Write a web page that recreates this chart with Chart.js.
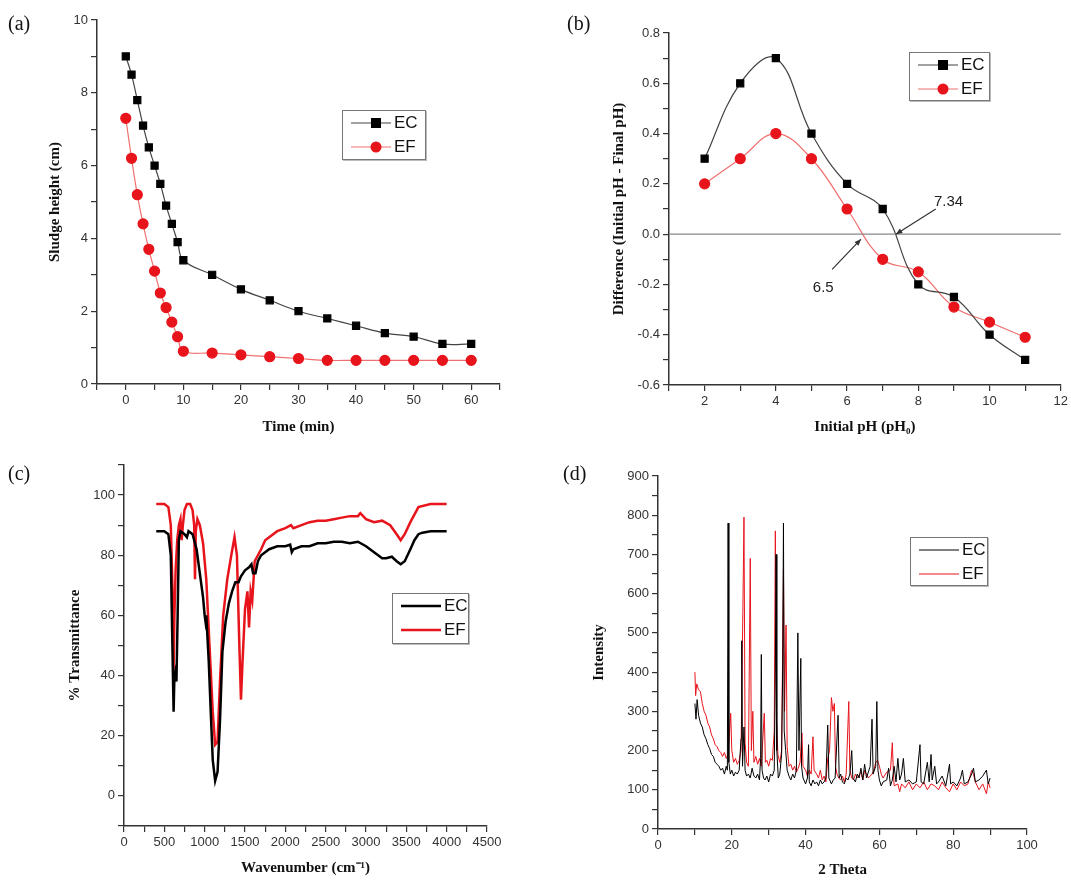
<!DOCTYPE html>
<html>
<head>
<meta charset="utf-8">
<script src="https://cdn.jsdelivr.net/npm/chart.js@4"></script>
<style>
  body { margin: 0; background: #fff; width: 1071px; height: 891px; position: relative; overflow: hidden; }
  canvas { position: absolute; }
  .tag { position: absolute; font: 20px "Liberation Serif", serif; color: #111; }
  .legend { position: absolute; border: 1.5px solid #777; background: #fff; box-shadow: 1px 1px 0 #bbb; }
  .legend div { display: flex; align-items: center; height: 24px; font: 17px "Liberation Sans", Arial, sans-serif; color: #111; }
  .legend svg { margin: 0 3px 0 8px; }
</style>
</head>
<body>
<canvas id="chartA" style="left:0;top:0"></canvas>
<canvas id="chartB" style="left:540px;top:0"></canvas>
<canvas id="chartC" style="left:0;top:450px"></canvas>
<canvas id="chartD" style="left:540px;top:450px"></canvas>

<div class="tag" style="left:8px;top:12px">(a)</div>
<div class="tag" style="left:567px;top:12px">(b)</div>
<div class="tag" style="left:8px;top:462px">(c)</div>
<div class="tag" style="left:563px;top:462px">(d)</div>

<div class="legend" style="left:342px;top:110px;width:82px;height:48px" id="legA"></div>
<div class="legend" style="left:909px;top:52px;width:79px;height:47px" id="legB"></div>
<div class="legend" style="left:392px;top:593px;width:75px;height:49px" id="legC"></div>
<div class="legend" style="left:910px;top:537px;width:76px;height:47px" id="legD"></div>

<script>
// (a) sludge height vs time
const timeMin = [0, 1, 2, 3, 4, 5, 6, 7, 8, 9, 10, 15, 20, 25, 30, 35, 40, 45, 50, 55, 60];
const sludgeEC = [9, 8.5, 7.8, 7.1, 6.5, 6, 5.5, 4.9, 4.4, 3.9, 3.4, 3.0, 2.6, 2.3, 2.0, 1.8, 1.6, 1.4, 1.3, 1.1, 1.1];
const sludgeEF = [7.3, 6.2, 5.2, 4.4, 3.7, 3.1, 2.5, 2.1, 1.7, 1.3, 0.9, 0.85, 0.8, 0.75, 0.7, 0.65, 0.65, 0.65, 0.65, 0.65, 0.65];
const timeTicks = [-5, 0, 5, 10, 15, 20, 25, 30, 35, 40, 45, 50, 55, 60, 65];
const timeLabels = [0, 10, 20, 30, 40, 50, 60];

// (b) pH difference vs initial pH
const initialPH = [2, 3, 4, 5, 6, 7, 8, 9, 10, 11];
const diffEC = [0.3, 0.6, 0.7, 0.4, 0.2, 0.1, -0.2, -0.25, -0.4, -0.5];
const diffEF = [0.2, 0.3, 0.4, 0.3, 0.1, -0.1, -0.15, -0.29, -0.35, -0.41];

// (c) FTIR [wavenumber, %T]
const ftirEC = [[400,88],[450,88],[500,88],[550,87],[580,80],[600,50],[615,28],[625,40],[640,42],[650,38],[665,60],[680,85],[700,88],[750,87],[780,86],[800,88],[850,87],[880,84],[900,82],[950,72],[980,66],[1000,60],[1010,58],[1020,60],[1050,45],[1080,25],[1100,12],[1130,5],[1160,8],[1190,25],[1220,48],[1260,58],[1300,64],[1340,68],[1380,71],[1420,71],[1450,73],[1500,75],[1550,76],[1580,77],[1600,74],[1630,74],[1660,78],[1700,80],[1800,82],[1900,83],[2000,83],[2060,83.5],[2080,81],[2100,82],[2200,83],[2300,83],[2400,84],[2500,84],[2600,84.5],[2700,84.5],[2800,84],[2900,84.5],[3000,83],[3100,81],[3200,79],[3250,79],[3320,79.5],[3380,78],[3430,77],[3480,78],[3550,82],[3600,85],[3650,87],[3700,87.5],[3800,88],[3900,88],[4000,88]];
const ftirEF = [[400,97],[500,97],[550,96],[580,90],[600,70],[615,42],[625,60],[640,75],[660,85],[680,90],[700,92],[715,85],[730,90],[750,95],[780,97],[820,97],[850,95],[870,90],[880,72],[890,88],[910,92],[940,90],[980,84],[1020,72],[1060,50],[1100,28],[1130,17],[1160,18],[1190,38],[1230,60],[1280,72],[1330,80],[1370,86],[1400,80],[1430,50],[1450,32],[1470,45],[1500,62],[1530,68],[1550,56],[1570,68],[1590,65],[1620,78],[1660,80],[1700,82],[1750,85],[1800,86],[1900,88],[2000,89],[2070,90],[2100,89],[2200,90],[2300,91],[2400,91.5],[2500,91.5],[2600,92],[2700,92.5],[2800,93],[2900,93],[2930,94],[3000,92],[3100,91],[3200,91.5],[3300,90],[3380,87],[3430,85],[3480,87],[3550,91],[3650,96],[3800,97],[4000,97]];

// (d) XRD [2theta, intensity]
const xrdEC = [[10,320],[10.3,280],[10.6,330],[11,290],[11.5,270],[12,260],[12.5,240],[13,230],[13.5,215],[14,205],[14.5,190],[15,185],[15.5,170],[16,165],[16.5,160],[17,150],[17.5,155],[18,140],[18.5,160],[18.8,150],[19,780],[19.2,170],[19.6,140],[20,150],[20.5,135],[21,145],[21.5,140],[22,150],[22.5,230],[22.7,480],[22.9,160],[23.3,260],[23.6,150],[24,135],[24.5,140],[25,130],[25.5,155],[26,135],[26.5,130],[27,140],[27.5,125],[27.8,180],[28,445],[28.2,150],[28.6,130],[29,125],[29.5,135],[30,120],[30.5,140],[31,135],[31.5,150],[31.8,400],[32,700],[32.2,200],[32.6,130],[33,140],[33.5,190],[33.8,420],[34,780],[34.2,250],[34.6,200],[35,150],[35.5,135],[36,125],[36.5,140],[37,130],[37.5,150],[37.9,500],[38.2,200],[38.7,435],[38.9,160],[39.3,130],[40,115],[40.5,130],[40.8,215],[41,120],[41.5,110],[42,125],[42.5,115],[43,120],[43.5,110],[44,125],[44.5,115],[45,120],[45.5,130],[46,265],[46.3,130],[47,115],[47.5,125],[48,130],[48.8,290],[49.1,130],[49.5,140],[50,120],[50.5,115],[51,130],[51.5,125],[52,140],[52.5,200],[52.8,130],[53.5,120],[54,140],[54.5,130],[55,155],[55.5,125],[56,165],[56.5,130],[57,145],[57.5,160],[58,280],[58.3,140],[59,160],[59.3,325],[59.6,150],[60,125],[60.5,110],[61,120],[62,125],[62.5,155],[63,110],[63.5,125],[64,160],[64.5,120],[65,180],[65.5,125],[66,140],[66.5,180],[67,120],[68,125],[69,115],[70,120],[71,215],[71.3,120],[72,115],[73,170],[73.5,120],[74,190],[74.3,125],[75,160],[75.5,115],[76,120],[77,135],[78,110],[79,165],[79.3,115],[80,120],[81,110],[82,130],[82.5,150],[83,115],[84,120],[85,140],[85.5,155],[86,120],[87,125],[88,135],[89,150],[89.5,115],[90,130]];
const xrdEF = [[10,400],[10.2,340],[10.5,370],[11,355],[11.5,350],[12,320],[12.5,300],[13,290],[13.5,270],[14,260],[14.5,240],[15,230],[15.5,215],[16,210],[16.5,200],[17,195],[17.5,185],[18,195],[18.5,180],[19,190],[19.7,295],[20,200],[20.5,170],[21,180],[21.5,165],[22,175],[22.5,200],[23,555],[23.3,795],[23.6,220],[24,170],[24.5,160],[25,690],[25.3,200],[25.7,300],[26,170],[26.5,185],[27,165],[27.5,180],[28,160],[28.8,295],[29.1,170],[29.5,175],[30,160],[30.5,180],[31,175],[31.5,250],[31.8,760],[32.1,280],[32.5,190],[33,170],[33.5,200],[34,660],[34.3,300],[34.7,520],[35,210],[35.5,160],[36,165],[36.5,150],[37,160],[37.5,145],[38,155],[38.5,170],[39,245],[39.3,160],[40,150],[40.5,135],[41,150],[41.5,140],[42,235],[42.3,150],[43,140],[43.5,130],[44,150],[44.5,125],[45,135],[45.5,120],[46,180],[46.5,200],[47,335],[47.4,300],[47.8,320],[48.1,160],[48.5,140],[49,130],[49.5,125],[50,135],[50.5,120],[51,140],[51.7,325],[52,150],[52.5,130],[53,125],[53.5,140],[54,130],[55,145],[55.5,125],[56,150],[57,130],[58,140],[58.5,150],[59,170],[59.5,175],[60,160],[60.5,140],[61,130],[62,145],[63,150],[63.5,220],[63.8,140],[64,110],[65,115],[65.5,95],[66,115],[67,105],[68,120],[69,100],[70,115],[71,105],[72,120],[73,100],[74,115],[75,110],[76,100],[77,120],[78,105],[79,95],[80,115],[81,100],[82,120],[83,110],[84,115],[85,150],[85.5,140],[86,120],[87,100],[88,115],[89,90],[89.5,120],[90,105]];

const tickFont = { family: "'Liberation Sans', Arial, sans-serif", size: 13 };
const titleFont = { family: "'Liberation Serif', 'Times New Roman', serif", size: 15, weight: "bold" };

function zip(xs, ys) {
  return xs.map((x, i) => ({ x, y: ys[i] }));
}
function pairs(list) {
  return list.map(([x, y]) => ({ x, y }));
}

function axis(opts) {
  return {
    type: "linear",
    min: opts.min,
    max: opts.max,
    grid: { display: true, drawOnChartArea: false, drawTicks: true, tickLength: 6, tickColor: "#333", lineWidth: 1.2 },
    border: { display: true, color: "#333", width: 1.5 },
    ticks: { stepSize: opts.step, color: "#333", font: tickFont, padding: 3, autoSkip: false, maxRotation: 0, minRotation: 0, callback: opts.fmt || ((v) => v) },
    title: { display: true, text: opts.title, color: "#111", font: titleFont, padding: opts.titlePad || 4 },
    afterBuildTicks: opts.tickValues ? (scale) => { scale.ticks = opts.tickValues.map((value) => ({ value })); } : undefined,
    afterFit: (scale) => {
      if (opts.width) scale.width = opts.width;
      if (opts.height) scale.height = opts.height;
    }
  };
}

function makeChart(id, w, h, padding, datasets, xOpts, yOpts, extraPlugins = []) {
  const canvas = document.getElementById(id);
  canvas.style.width = w + "px";
  canvas.style.height = h + "px";
  canvas.width = w;
  canvas.height = h;
  return new Chart(canvas, {
    type: "scatter",
    data: { datasets },
    options: {
      responsive: false,
      animation: false,
      devicePixelRatio: 1,
      layout: { padding },
      plugins: { legend: { display: false }, tooltip: { enabled: false } },
      scales: { x: axis(xOpts), y: axis(yOpts) }
    },
    plugins: extraPlugins
  });
}

function markerSeries(data, color, shape, lineColor) {
  return {
    data,
    showLine: true,
    borderColor: lineColor,
    borderWidth: 1.2,
    tension: 0.4,
    pointStyle: shape,
    pointRadius: 5,
    pointBackgroundColor: color,
    pointBorderColor: color
  };
}
function lineSeries(data, color, width) {
  return { data, showLine: true, borderColor: color, borderWidth: width, pointRadius: 0, tension: 0 };
}

makeChart("chartA", 535, 440, { left: 42, top: 20, right: 35, bottom: 0 },
  [markerSeries(zip(timeMin, sludgeEC), "#000", "rect", "#444"),
   markerSeries(zip(timeMin, sludgeEF), "#e8141c", "circle", "#f07070")],
  { min: -5, max: 65, title: "Time (min)", height: 56, tickValues: timeTicks, fmt: (v) => (timeLabels.includes(v) ? v : "") },
  { min: 0, max: 10, step: 1, title: "Sludge height (cm)", width: 55, fmt: (v) => (v % 2 === 0 ? v : "") });

const annotateB = {
  id: "annotateB",
  afterDatasetsDraw(chart) {
    const { ctx, scales: { x, y }, chartArea } = chart;
    ctx.save();
    ctx.strokeStyle = "#888";
    ctx.lineWidth = 1.2;
    ctx.beginPath();
    ctx.moveTo(chartArea.left, y.getPixelForValue(0));
    ctx.lineTo(chartArea.right, y.getPixelForValue(0));
    ctx.stroke();
    const arrow = (x1, y1, x2, y2) => {
      const px1 = x.getPixelForValue(x1), py1 = y.getPixelForValue(y1);
      const px2 = x.getPixelForValue(x2), py2 = y.getPixelForValue(y2);
      ctx.strokeStyle = "#333";
      ctx.fillStyle = "#333";
      ctx.beginPath();
      ctx.moveTo(px1, py1);
      ctx.lineTo(px2, py2);
      ctx.stroke();
      const a = Math.atan2(py2 - py1, px2 - px1);
      ctx.beginPath();
      ctx.moveTo(px2, py2);
      ctx.lineTo(px2 - 7 * Math.cos(a - 0.4), py2 - 7 * Math.sin(a - 0.4));
      ctx.lineTo(px2 - 7 * Math.cos(a + 0.4), py2 - 7 * Math.sin(a + 0.4));
      ctx.fill();
    };
    arrow(8.49, 0.1, 7.37, 0.0);
    arrow(5.58, -0.14, 6.39, -0.02);
    ctx.font = "15px 'Liberation Sans', Arial, sans-serif";
    ctx.fillStyle = "#222";
    ctx.textAlign = "center";
    ctx.fillText("7.34", x.getPixelForValue(8.85), y.getPixelForValue(0.11));
    ctx.fillText("6.5", x.getPixelForValue(5.33), y.getPixelForValue(-0.23));
    ctx.restore();
  }
};

makeChart("chartB", 531, 440, { left: 66, top: 33, right: 8, bottom: 0 },
  [markerSeries(zip(initialPH, diffEC), "#000", "rect", "#444"),
   markerSeries(zip(initialPH, diffEF), "#e8141c", "circle", "#f07070")],
  { min: 1, max: 12, step: 1, title: "Initial pH (pH\u2080)", height: 55, fmt: (v) => (v % 2 === 0 ? v : "") },
  { min: -0.6, max: 0.8, step: 0.1, title: "Difference (Initial pH - Final pH)", width: 63,
    fmt: (v) => (Math.round(v * 10) % 2 === 0 ? v.toFixed(1) : "") },
  [annotateB]);

makeChart("chartC", 540, 441, { left: 62, top: 15, right: 53, bottom: 0 },
  [lineSeries(pairs(ftirEC), "#000", 2.5), lineSeries(pairs(ftirEF), "#e8141c", 2.5)],
  { min: 0, max: 4500, step: 250, title: "Wavenumber (cm\u207B\u00B9)", height: 65, titlePad: 14, fmt: (v) => (v % 500 === 0 ? v : "") },
  { min: -10, max: 110, step: 10, title: "% Transmittance", width: 62, fmt: (v) => (v % 20 === 0 && v >= 0 && v <= 100 ? v : "") });

makeChart("chartD", 531, 441, { left: 46, top: 26, right: 44, bottom: 0 },
  [lineSeries(pairs(xrdEC), "#000", 1), lineSeries(pairs(xrdEF), "#e8141c", 1)],
  { min: 0, max: 100, step: 10, title: "2 Theta", height: 62, titlePad: 12, fmt: (v) => (v % 20 === 0 ? v : "") },
  { min: 0, max: 900, step: 50, title: "Intensity", width: 72, fmt: (v) => (v % 100 === 0 ? v : "") });

function legendRow(label, color, marker, lineW) {
  let m = "";
  if (marker === "rect") m = `<rect x="20" y="6" width="10" height="10" fill="${color}"/>`;
  if (marker === "circle") m = `<circle cx="25" cy="11" r="5.5" fill="${color}"/>`;
  const stroke = marker ? (color === "#000" ? "#444" : "#f07070") : color;
  return `<div><svg width="40" height="22"><line x1="0" y1="11" x2="40" y2="11" stroke="${stroke}" stroke-width="${lineW}"/>${m}</svg>${label}</div>`;
}
document.getElementById("legA").innerHTML = legendRow("EC", "#000", "rect", 1.2) + legendRow("EF", "#e8141c", "circle", 1.2);
document.getElementById("legB").innerHTML = legendRow("EC", "#000", "rect", 1.2) + legendRow("EF", "#e8141c", "circle", 1.2);
document.getElementById("legC").innerHTML = legendRow("EC", "#000", null, 2.5) + legendRow("EF", "#e8141c", null, 2.5);
document.getElementById("legD").innerHTML = legendRow("EC", "#000", null, 1) + legendRow("EF", "#e8141c", null, 1);
</script>
</body>
</html>
